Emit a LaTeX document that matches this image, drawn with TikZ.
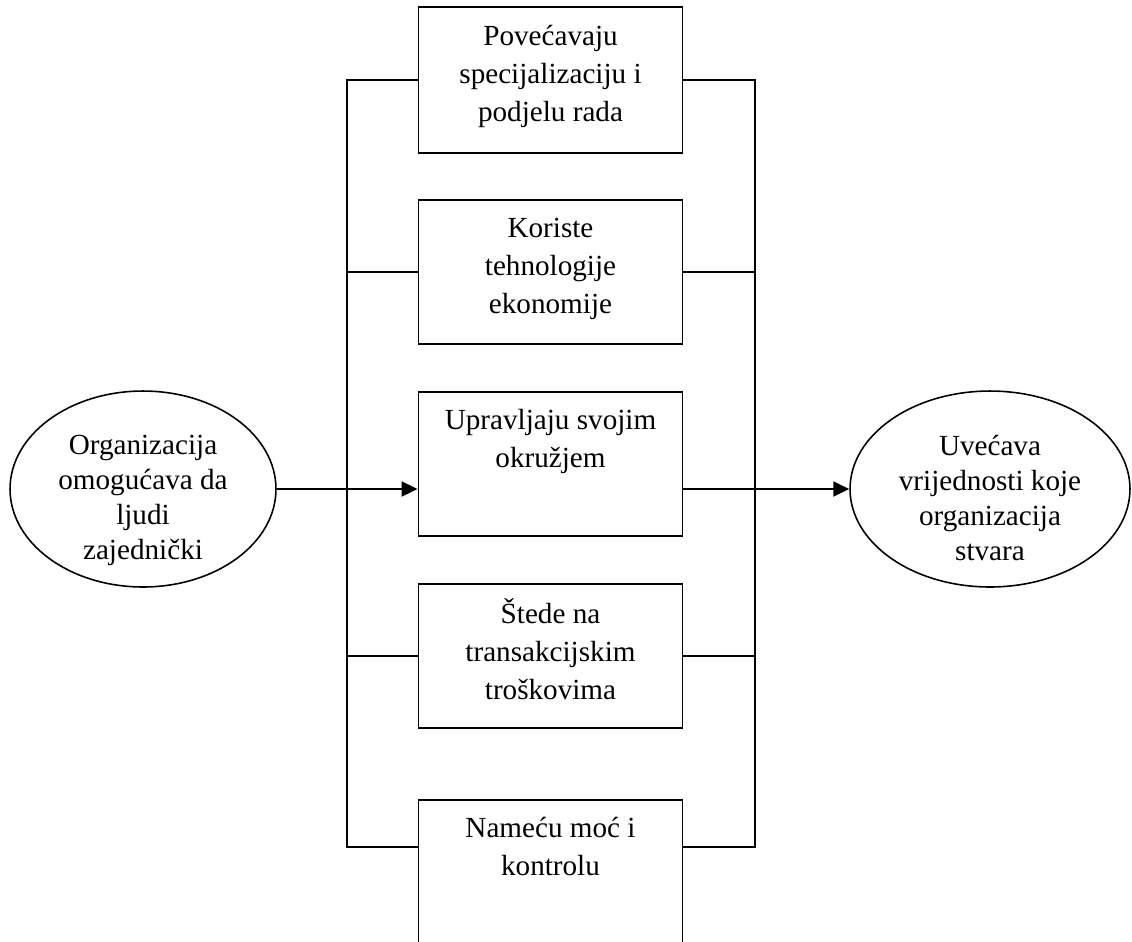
\documentclass[tikz,border=0pt]{standalone}
\usepackage{fontspec}
\setmainfont{Liberation Serif}
\usetikzlibrary{positioning,shapes,arrows.meta,calc}

\begin{document}
\begin{tikzpicture}[x=0.02cm,y=-0.02cm,
    box/.style={draw,line width=1.1pt,minimum width=5.28cm,inner sep=0pt},
    txt/.style={align=center,inner sep=0pt,font=\fontsize{16.6}{21.6}\selectfont},
    ovaltxt/.style={align=center,inner sep=0pt,font=\fontsize{16.6}{19.9}\selectfont},
    oval/.style={ellipse,draw,line width=0.9pt,inner sep=0pt},
    conn/.style={line width=1.1pt},
    arr/.style={line width=1.1pt,-{Triangle[length=0.32cm,width=0.3cm]}}]
      %\draw[help lines] (0,0) grid[step=100] (1132,941);
      \useasboundingbox (0,0) rectangle (1132,941);

      % the five boxes in the middle
      \node[box,minimum height=2.92cm] (b1) at (550.5,80) {};
      \node[box,minimum height=2.88cm] (b2) at (550.5,272) {};
      \node[box,minimum height=2.88cm] (b3) at (550.5,464) {};
      \node[box,minimum height=2.88cm] (b4) at (550.5,656) {};
      \node[box,minimum height=3cm] (b5) at (550.5,875) {};

      \node[txt,below=0.38cm of b1.north] (t1) {Povećavaju\\specijalizaciju i\\podjelu rada};
      \node[txt,below=0.38cm of b2.north] (t2) {Koriste\\tehnologije\\ekonomije};
      \node[txt,below=0.36cm of b3.north] (t3) {Upravljaju svojim\\okružjem};
      \node[txt,below=0.30cm of b4.north] (t4) {Štede na\\transakcijskim\\troškovima};
      \node[txt,below=0.36cm of b5.north] (t5) {Nameću moć i\\kontrolu};

      % ovals
      \node[oval,minimum width=5.32cm,minimum height=3.92cm] (org) at (143,489) {};
      \node[oval,minimum width=5.6cm,minimum height=3.92cm] (val) at (990,489) {};

      \node[ovaltxt,below=0.9cm of org.north] (orgtxt) {Organizacija\\omogućava da\\ljudi\\zajednički};
      \node[ovaltxt,below=0.9cm of val.north] (valtxt) {Uvećava\\vrijednosti koje\\organizacija\\stvara};

      % left and right bus
      \coordinate (l5) at ($(b5.north west)+(0,48)$);
      \coordinate (r5) at ($(b5.north east)+(0,48)$);
      \coordinate (lb) at (347,0);
      \coordinate (rb) at (755,0);

      \draw[conn] (b1.west) -| (lb |- l5) -- (l5);
      \draw[conn] (b2.west) -- (b2.west -| lb);
      \draw[conn] (b4.west) -- (b4.west -| lb);

      \draw[conn] (b1.east) -| (rb |- r5) -- (r5);
      \draw[conn] (b2.east) -- (b2.east -| rb);
      \draw[conn] (b4.east) -- (b4.east -| rb);

      \draw[arr] (org.east) -- (org.east -| b3.west);
      \draw[arr] (b3.east |- val.west) -- (val.west);
    \end{tikzpicture}
\end{document}
